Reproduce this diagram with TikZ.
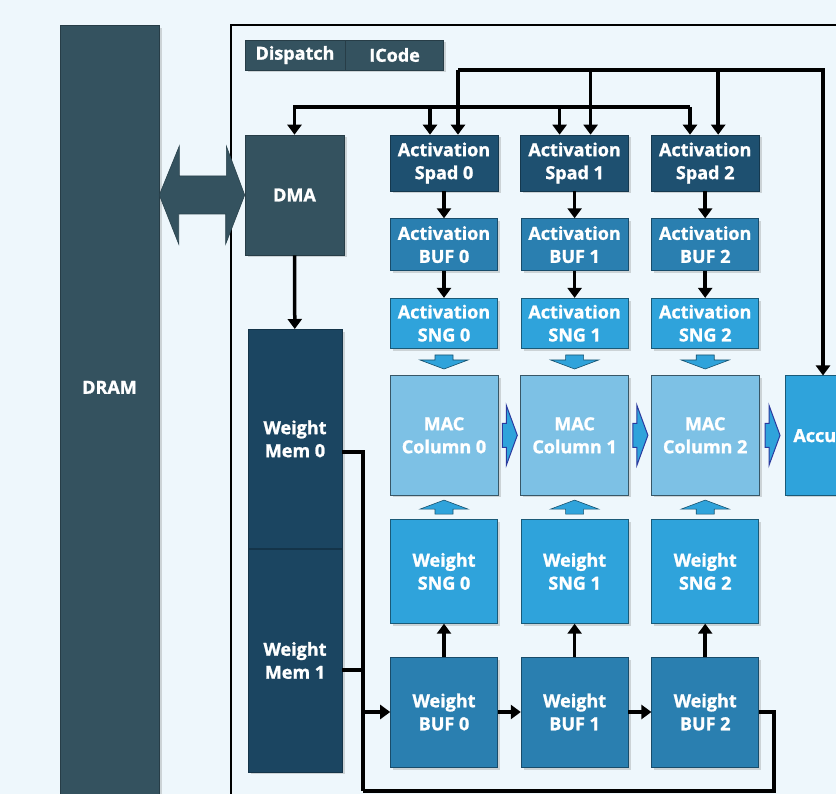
\documentclass[tikz,border=0pt]{standalone}
\usepackage{fontspec}
\setmainfont{Open Sans}[BoldFeatures={FakeBold=1.3}]
\usetikzlibrary{arrows.meta, positioning, calc, shadows}
\definecolor{pagebg}{HTML}{EEF7FC}
\definecolor{slate}{HTML}{34525F}
\definecolor{memblue}{HTML}{1B4561}
\definecolor{spadblue}{HTML}{1E5070}
\definecolor{bufblue}{HTML}{2A7FB0}
\definecolor{sngblue}{HTML}{2FA3DB}
\definecolor{macblue}{HTML}{7DC1E5}
\definecolor{arrowrim}{HTML}{2B3A9E}

\begin{document}
\begin{tikzpicture}[
  x=1pt, y=-1pt,
  node distance=27pt and 22pt,
  unit/.style={rectangle, line width=0.6pt, text=white, inner sep=0pt,
               font=\fontsize{18}{23}\selectfont\bfseries, align=center,
               drop shadow={shadow xshift=2.5pt, shadow yshift=-2.5pt, opacity=0.3}},
  slatebox/.style={unit, fill=slate, draw=slate!75!black},
  membox/.style={unit, fill=memblue, draw=memblue!75!black, minimum width=94pt},
  spadbox/.style={unit, fill=spadblue, draw=spadblue!70!black,
                  minimum width=108pt, minimum height=56pt},
  bufbox/.style={unit, fill=bufblue, draw=bufblue!60!black,
                 minimum width=107pt, minimum height=52pt},
  sngbox/.style={unit, fill=sngblue, draw=sngblue!55!black,
                 minimum width=107pt, minimum height=50pt},
  macbox/.style={unit, fill=macblue, draw=macblue!45!black,
                 minimum width=108pt, minimum height=119pt},
  boxtext/.style={text=white, font=\fontsize{18}{23}\selectfont\bfseries},
  wire/.style={line width=3.5pt, black},
  arrow/.style={-{Triangle[length=10pt,width=14pt]}, line width=3.5pt, black},
  frame/.style={line width=1.2pt, black},
  dblarrow/.style={fill=slate, draw=slate!80!black, line width=0.6pt},
  feedarrow/.style={fill=sngblue, draw=sngblue!50!black, line width=0.6pt},
  sidearrow/.style={fill=sngblue, draw=arrowrim, line width=1pt},
  feeddown/.pic={\draw[feedarrow] (-9,-7) -- (9,-7) -- (9,-2) -- (24,-2) -- (0,7)
                   -- (-24,-2) -- (-9,-2) -- cycle;},
  feedup/.pic={\draw[feedarrow] (-9,7) -- (9,7) -- (9,2) -- (24,2) -- (0,-7)
                 -- (-24,2) -- (-9,2) -- cycle;},
  feedright/.pic={\draw[sidearrow] (-7,-12) -- (-3,-12) -- (-3,-30) -- (8,0)
                    -- (-3,30) -- (-3,12) -- (-7,12) -- cycle;},
]
  \useasboundingbox (0,0) rectangle (836,794);
  \fill[pagebg] (0,0) rectangle (836,794);

  % Chip outline
  \draw[frame] (231,830) -- (231,25) -- (870,25);

  % Off-chip memory and DMA
  \node[slatebox, minimum width=99pt, minimum height=800pt, anchor=north,
        label={[boxtext, yshift=38pt]center:DRAM}] (dram) at (109.5,25) {};
  \node[slatebox, minimum width=99pt, minimum height=120pt] (dma) at (294.5,195) {DMA};
  \node[slatebox, minimum width=100pt, minimum height=30pt] (disp) at (295,55) {Dispatch};
  \node[slatebox, minimum width=98pt, minimum height=30pt, right=0pt of disp] (icode) {ICode};

  % Weight memories
  \node[membox, minimum height=219pt, anchor=north, text depth=-14pt] (wmem0) at (295,329) {Weight\\Mem 0};
  \node[membox, minimum height=223pt, below=0pt of wmem0, text depth=-8pt] (wmem1) {Weight\\Mem 1};

  % Activation side
  \node[spadbox] (spad0) at (444,163) {Activation\\Spad 0};
  \node[spadbox, right=of spad0] (spad1) {Activation\\Spad 1};
  \node[spadbox, right=of spad1] (spad2) {Activation\\Spad 2};
  \node[bufbox, below=of spad0] (abuf0) {Activation\\BUF 0};
  \node[bufbox, below=of spad1] (abuf1) {Activation\\BUF 1};
  \node[bufbox, below=of spad2] (abuf2) {Activation\\BUF 2};
  \node[sngbox, below=of abuf0] (asng0) {Activation\\SNG 0};
  \node[sngbox, below=of abuf1] (asng1) {Activation\\SNG 1};
  \node[sngbox, below=of abuf2] (asng2) {Activation\\SNG 2};

  % MAC array
  \node[macbox, below=of asng0] (mac0) {MAC\\Column 0};
  \node[macbox, below=of asng1] (mac1) {MAC\\Column 1};
  \node[macbox, below=of asng2] (mac2) {MAC\\Column 2};
  \node[sngbox, minimum width=133pt, minimum height=119pt, right=25pt of mac2] (acc) {Accumulator};

  % Weight side
  \node[sngbox, minimum height=104pt, below=24pt of mac0] (wsng0) {Weight\\SNG 0};
  \node[sngbox, minimum height=104pt, below=24pt of mac1] (wsng1) {Weight\\SNG 1};
  \node[sngbox, minimum height=104pt, below=24pt of mac2] (wsng2) {Weight\\SNG 2};
  \node[bufbox, minimum height=110pt, below=33pt of wsng0] (wbuf0) {Weight\\BUF 0};
  \node[bufbox, minimum height=110pt, below=33pt of wsng1] (wbuf1) {Weight\\BUF 1};
  \node[bufbox, minimum height=110pt, below=33pt of wsng2] (wbuf2) {Weight\\BUF 2};

  % DRAM <-> DMA
  \draw[dblarrow] (dram.east |- dma.west) -- ++(20,-49) -- ++(0,30) -- ++(47,0)
    -- ++(0,-30) -- (dma.west) -- ++(-19,49) -- ++(0,-30) -- ++(-47,0)
    -- ++(0,30) -- cycle;
  \draw[arrow] (dma) -- (wmem0);

  % Control buses
  \coordinate (busa) at (458,70);
  \coordinate (busb) at (823,70);
  \coordinate (busd) at (690,107);
  \draw[arrow] (busa) -- (busb) -- (busb |- acc.north);
  \draw[arrow] (busa) -- (busa |- spad0.north);
  \draw[arrow] ([xshift=16pt]spad1.north |- busa) -- ([xshift=16pt]spad1.north);
  \draw[arrow] ([xshift=13pt]spad2.north |- busa) -- ([xshift=13pt]spad2.north);
  \draw[arrow] (busd) -- (dma.north |- busd) -- (dma.north);
  \draw[arrow] (busd) -- (busd |- spad2.north);
  \draw[arrow] ([xshift=-14pt]spad0.north |- busd) -- ([xshift=-14pt]spad0.north);
  \draw[arrow] ([xshift=-15pt]spad1.north |- busd) -- ([xshift=-15pt]spad1.north);

  % Activation flow
  \draw[arrow] (spad0) -- (abuf0);
  \draw[arrow] (spad1) -- (abuf1);
  \draw[arrow] (spad2) -- (abuf2);
  \draw[arrow] (abuf0) -- (asng0);
  \draw[arrow] (abuf1) -- (asng1);
  \draw[arrow] (abuf2) -- (asng2);
  \pic at ($(asng0.south)!0.5!(mac0.north)$) {feeddown};
  \pic at ($(asng1.south)!0.5!(mac1.north)$) {feeddown};
  \pic at ($(asng2.south)!0.5!(mac2.north)$) {feeddown};

  % Partial sums
  \pic at ($(mac0.east)!0.5!(mac1.west)$) {feedright};
  \pic at ($(mac1.east)!0.5!(mac2.west)$) {feedright};
  \pic at ($(mac2.east)!0.5!(acc.west)$) {feedright};

  % Weight flow
  \pic at ($(wsng0.north)!0.5!(mac0.south)$) {feedup};
  \pic at ($(wsng1.north)!0.5!(mac1.south)$) {feedup};
  \pic at ($(wsng2.north)!0.5!(mac2.south)$) {feedup};
  \draw[arrow] (wbuf0) -- (wsng0);
  \draw[arrow] (wbuf1) -- (wsng1);
  \draw[arrow] (wbuf2) -- (wsng2);
  \draw[arrow] (wbuf0) -- (wbuf1);
  \draw[arrow] (wbuf1) -- (wbuf2);

  % Weight loading and loop back
  \coordinate (wtap) at (363,452);
  \coordinate (mtap) at (363,670);
  \coordinate (wloop) at (363,791);
  \draw[wire] (wmem0.east |- wtap) -- (wtap) -- (wloop);
  \draw[wire] (wmem1.east |- mtap) -- (mtap);
  \draw[arrow] (wbuf0.west -| wtap) -- (wbuf0.west);
  \draw[wire] (wbuf2.east) -- ++(15,0) |- (wloop);
\end{tikzpicture}
\end{document}
